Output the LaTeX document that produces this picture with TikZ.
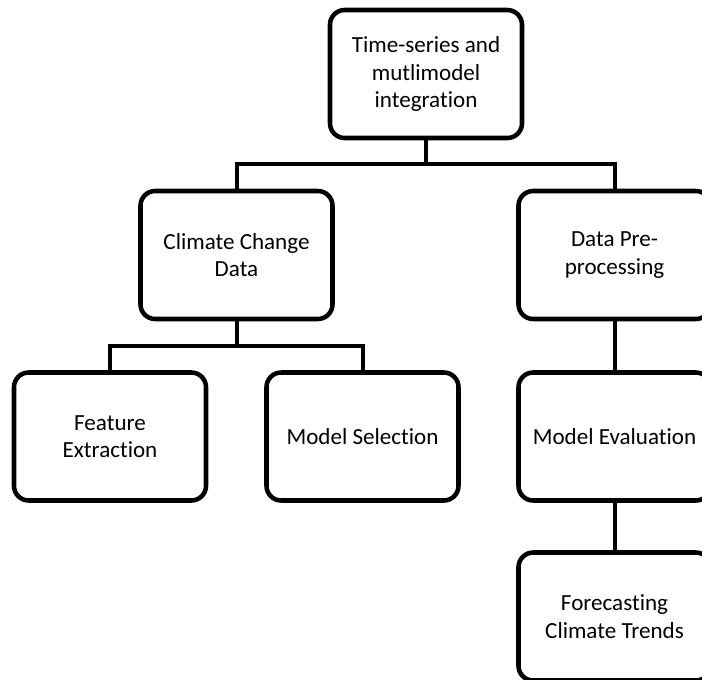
\documentclass[tikz,border=0pt]{standalone}
\usepackage{fontspec}
\setmainfont[Ligatures=NoCommon]{Carlito}
\begin{document}
\begin{tikzpicture}[x=0.75pt,y=-0.75pt]
\tikzset{
  box/.style={draw, line width=3.4pt, rounded corners=11pt, minimum width=144pt, minimum height=96pt, align=center, inner sep=0pt, font=\fontsize{17.3}{20.5}\selectfont},
  link/.style={line width=3pt}
}
\useasboundingbox (0,0) rectangle (702,679);
\clip (0,0) rectangle (702,679);
\node[box] (top) at (426,74) {Time-series and\\mutlimodel\\integration};
\node[box] (cc) at (236.5,255) {Climate Change\\Data};
\node[box] (dp) at (614.5,255) {Data Pre-\\processing};
\node[box] (fe) at (110,436.5) {Feature\\Extraction};
\node[box] (ms) at (362.5,436.5) {Model Selection};
\node[box] (me) at (614.5,436.5) {Model Evaluation};
\node[box] (fc) at (614.5,616.5) {Forecasting\\Climate Trends};
\coordinate (j1) at (426,164);
\coordinate (j2) at (236.5,346);
\draw[link] (top.south) -- (j1);
\draw[link] (cc.north) |- (j1) -| (dp.north);
\draw[link] (cc.south) -- (j2);
\draw[link] (fe.north) |- (j2) -| (ms.north);
\draw[link] (dp.south) -- (me.north);
\draw[link] (me.south) -- (fc.north);
\end{tikzpicture}
\end{document}
